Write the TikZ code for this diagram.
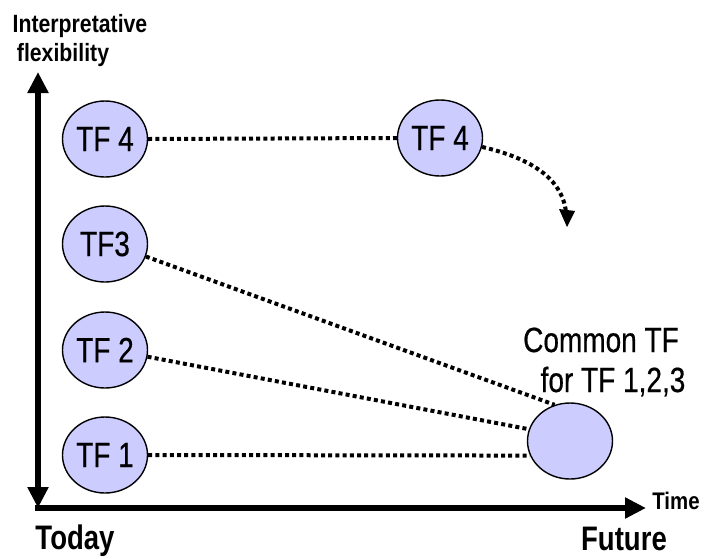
\documentclass[tikz,border=0pt]{standalone}
\usepackage{fontspec}
\setmainfont{Liberation Sans}[FakeStretch=0.85]
\newfontfamily\narrowfont{Liberation Sans}[FakeStretch=0.8,FakeBold=0.5]
\newfontfamily\narrowbold{Liberation Sans Bold}[FakeStretch=0.81]
\usetikzlibrary{arrows.meta,shapes.geometric}
\definecolor{tfFill}{RGB}{204,204,255}
\tikzset{axishead/.tip={Triangle[length=21pt,width=20pt]}}
\begin{document}
\begin{tikzpicture}[x=1pt,y=-1pt,
  tfnode/.style={ellipse,draw=black,line width=1.4pt,fill=tfFill,
    minimum width=85pt,minimum height=76pt,inner sep=0pt,
    font=\narrowfont\fontsize{35}{37}\selectfont},
  dotlink/.style={line width=4pt,dash pattern=on 4pt off 3.2pt},
  boldlabel/.style={font=\bfseries\fontsize{#1}{#1}\selectfont,inner sep=0pt},
  endlabel/.style={font=\narrowbold\fontsize{34}{36}\selectfont,inner sep=0pt,anchor=base},
  plainlabel/.style={font=\narrowfont\fontsize{35}{37}\selectfont,inner sep=0pt,anchor=base}]
  \useasboundingbox (0,0) rectangle (704,558);

  % axes
  \coordinate (ytop) at (38,72);
  \coordinate (ybot) at (38,508);
  \coordinate (xleft) at (35,508);
  \coordinate (xright) at (646,508);
  \draw[line width=5.5pt,axishead-axishead] (ytop) -- (ybot);
  \draw[line width=6.5pt,-axishead] (xleft) -- (xright);

  % axis labels
  \node[boldlabel=25] (lblInterp) at (80,26) {Interpretative};
  \node[boldlabel=25] (lblFlex) at (63,55) {flexibility};
  \node[boldlabel=24] (lblTime) at (676,501) {Time};
  \node[endlabel] (lblToday) at (75,549) {Today};
  \node[endlabel] (lblFuture) at (624,550) {Future};

  % technological frames
  \node[tfnode] (tf4) at (105,139) {TF 4};
  \node[tfnode] (tf3) at (105,244) {TF3};
  \node[tfnode] (tf2) at (105,350) {TF 2};
  \node[tfnode] (tf1) at (105,455) {TF 1};
  \node[tfnode] (tf4b) at (440,138) {TF 4};
  \node[tfnode] (common) at (570,441) {};

  \node[plainlabel] (lblCommon) at (601,352) {Common TF};
  \node[plainlabel] (lblFor) at (613,392) {for TF 1,2,3};

  % links between frames
  \draw[dotlink] (tf4.east) -- (tf4b.west);
  \draw[dotlink] (tf3.-17) -- (common.113);
  \draw[dotlink] (tf2.-9) -- (common.164);
  \draw[dotlink] (tf1.east) -- (common.200);
  \coordinate (tf4end) at (567,227);
  \draw[dotlink] (tf4b.-12) .. controls (530,158) and (562,178) .. (566,212);
  \draw[fill=black,draw=none] (tf4end) -- (559,209) -- (575,211) -- cycle;
\end{tikzpicture}
\end{document}
